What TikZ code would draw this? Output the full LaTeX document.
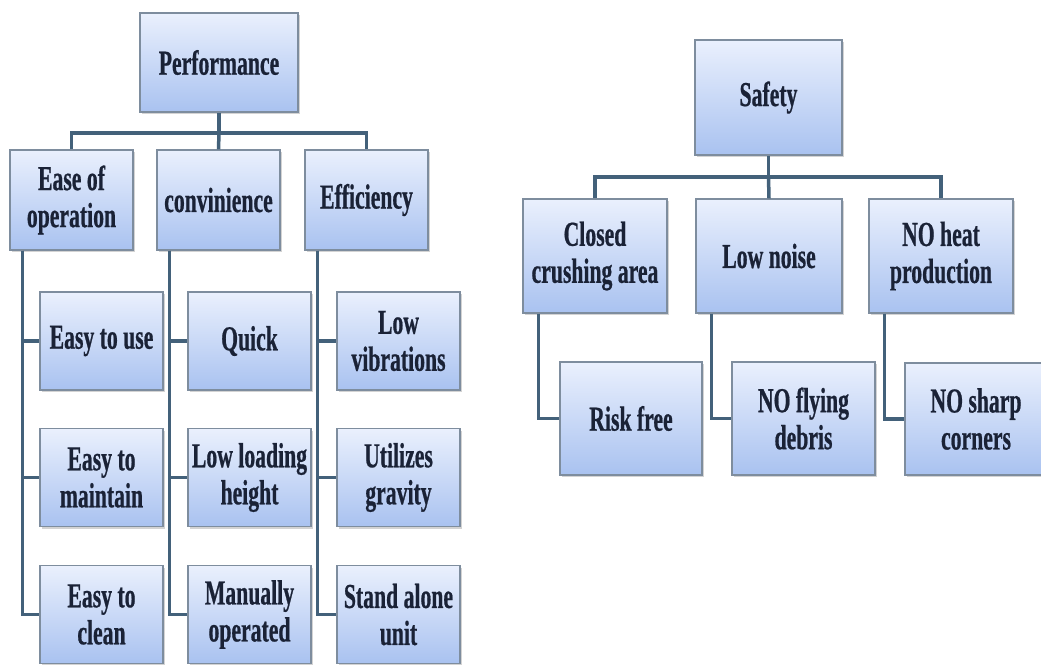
\documentclass[tikz,border=0pt]{standalone}
\usepackage{fontspec}
\setmainfont{Liberation Serif}[FakeStretch=0.62,FakeBold=0.6]
\usetikzlibrary{shadows}
\definecolor{boxtop}{HTML}{EAF0FD}
\definecolor{boxbot}{HTML}{A9C2F0}
\definecolor{boxrim}{HTML}{7E8D9E}
\definecolor{linkcol}{HTML}{43617A}
\definecolor{ink}{HTML}{1A2236}
\begin{document}
\begin{tikzpicture}[x=1pt,y=-1pt,
  box/.style={draw=boxrim,line width=1.2pt,top color=boxtop,bottom color=boxbot,
    drop shadow={shadow xshift=1.5pt,shadow yshift=-2pt,opacity=0.35},
    align=center,text=ink,inner sep=2pt,
    font=\bfseries\fontsize{35}{37}\selectfont},
  small/.style={box,minimum width=123pt,minimum height=98pt},
  large/.style={box,minimum width=144pt,minimum height=114pt},
  link/.style={draw=linkcol,line width=3.5pt}]
\useasboundingbox (0,0) rectangle (1041,664);
% performance tree
\node[box,minimum width=158pt,minimum height=99pt] (perf) at (219,62.5) {Performance};
\node[small,minimum height=100pt] (ease) at (71.5,200) {Ease of\\operation};
\node[small,minimum height=100pt] (conv) at (218.5,200) {convinience};
\node[small,minimum height=100pt] (eff) at (366.5,200) {Efficiency};
\node[small] (use) at (101.5,341) {Easy to use};
\node[small] (maint) at (101.5,477.5) {Easy to\\maintain};
\node[small] (clean) at (101.5,614.5) {Easy to\\clean};
\node[small] (quick) at (249.5,341) {Quick};
\node[small] (load) at (249.5,477.5) {Low loading\\height};
\node[small] (manual) at (249.5,614.5) {Manually\\operated};
\node[small] (vib) at (398.5,341) {Low\\vibrations};
\node[small] (grav) at (398.5,477.5) {Utilizes\\gravity};
\node[small] (alone) at (398.5,614.5) {Stand alone\\unit};
\coordinate (pbus) at (219,133);
\draw[link] (perf) -- (pbus);
\draw[link] (ease.north) |- (pbus) -| (eff.north);
\draw[link] (pbus) -- (conv.north);
\foreach \up/\kid in {ease/use,ease/maint,ease/clean,conv/quick,conv/load,conv/manual,eff/vib,eff/grav,eff/alone}
  \draw[link] ([xshift=13pt]\up.south west) |- (\kid.west);
% safety tree
\node[box,minimum width=147pt,minimum height=115pt] (safe) at (768.5,97.5) {Safety};
\node[large] (crush) at (595,256) {Closed\\crushing area};
\node[large,minimum width=146pt] (noise) at (769,256) {Low noise};
\node[large] (heat) at (941,256) {NO heat\\production};
\node[large,minimum width=142pt,minimum height=113pt] (risk) at (631,418.5) {Risk free};
\node[large,minimum width=143pt,minimum height=113pt] (debris) at (803.5,418.5) {NO flying\\debris};
\node[large,minimum width=142pt,minimum height=112pt] (sharp) at (976,419) {NO sharp\\corners};
\coordinate (sbus) at (768.5,177);
\draw[link] (safe) -- (sbus);
\draw[link] (crush.north) |- (sbus) -| (heat.north);
\draw[link] (sbus) -- (noise.north);
\foreach \up/\kid in {crush/risk,noise/debris,heat/sharp}
  \draw[link] ([xshift=16pt]\up.south west) |- (\kid.west);
\end{tikzpicture}
\end{document}
